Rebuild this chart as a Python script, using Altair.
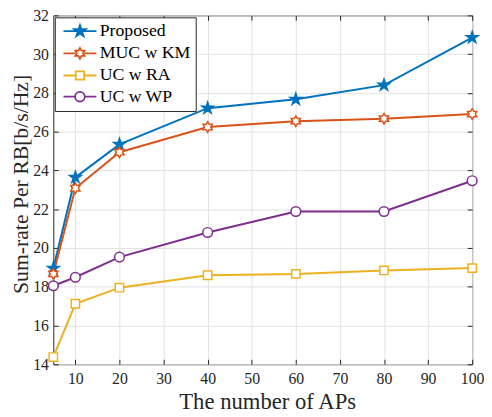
import math
import altair as alt
import pandas as pd

# ---------------- data ----------------
aps = [5, 10, 20, 40, 60, 80, 100]
proposed = [18.95, 23.64, 25.34, 27.21, 27.67, 28.4, 30.85]
muc_km = [18.66, 23.08, 24.94, 26.24, 26.54, 26.67, 26.91]
uc_ra = [14.37, 17.12, 17.95, 18.59, 18.66, 18.84, 18.96]
uc_wp = [18.05, 18.49, 19.53, 20.8, 21.88, 21.88, 23.47]
series_names = ["Proposed", "MUC w KM", "UC w RA", "UC w WP"]
x_ticks = [10, 20, 30, 40, 50, 60, 70, 80, 90, 100]
y_ticks = [14, 16, 18, 20, 22, 24, 26, 28, 30, 32]

colors = ["#0072BD", "#D95319", "#EDB120", "#7E2F8E"]
fills = ["#0072BD", "white", "white", "white"]

rows = []
for name, vals in zip(series_names, [proposed, muc_km, uc_ra, uc_wp]):
    for x, v in zip(aps, vals):
        rows.append({"aps": x, "rate": v, "series": name, "label": name})
df = pd.DataFrame(rows)

# ---------------- marker paths ----------------
def star_pts(n, R, r, rot=-90.0):
    pts = []
    for i in range(2 * n):
        rad = R if i % 2 == 0 else r
        a = math.radians(rot + i * 180.0 / n)
        pts.append((rad * math.cos(a), rad * math.sin(a)))
    return pts

def poly(pts, k):
    return "M" + "L".join(f"{x * k:.3f},{y * k:.3f}" for x, y in pts) + "Z"

def circle(r, k):
    r = r * k
    return f"M{r:.3f},0A{r:.3f},{r:.3f},0,1,1,{-r:.3f},0A{r:.3f},{r:.3f},0,1,1,{r:.3f},0Z"

def square(h, k):
    h = h * k
    return f"M{-h:.3f},{-h:.3f}H{h:.3f}V{h:.3f}H{-h:.3f}Z"

# marker geometry in pixels
PENT = star_pts(5, 6.2, 6.2 * 0.382)
HEX = star_pts(6, 5.4, 5.4 / math.sqrt(3))
CIRC_R = 4.9
SQ_H = 4.25

def marker_paths(k):
    return [poly(PENT, k), poly(HEX, k), square(SQ_H, k), circle(CIRC_R, k)]

# data markers: size 4 => 1 unit = 1 px
data_paths = marker_paths(1.0)

# legend markers: symbolSize 169 => 1 unit = 6.5 px
LU = 6.5
half_line = 16.7 / LU
gaps = [0.0, 5.4 * math.cos(math.radians(30)) / LU, SQ_H / LU, CIRC_R / LU]
legend_paths = []
for p, g in zip(marker_paths(1.0 / LU), gaps):
    if g > 0:
        line = f"M{-half_line:.3f},0H{-g:.3f}M{g:.3f},0H{half_line:.3f}"
    else:
        line = f"M{-half_line:.3f},0H{half_line:.3f}"
    legend_paths.append(line + p)

# ---------------- layout ----------------
W, H = 425, 354
FONT = "Liberation Serif"
TXT = "#262626"

x_scale = alt.Scale(domain=[5, 100], nice=False, zero=False)
y_scale = alt.Scale(domain=[14, 32], nice=False, zero=False)

x_main = alt.Axis(orient="bottom", values=x_ticks, grid=True, gridColor="#e2e2e2", gridWidth=1,
                  ticks=False, domain=False, labelFont=FONT, labelFontSize=16, labelColor=TXT,
                  labelPadding=7, labelFlush=False, title="The number of APs", titleFont=FONT,
                  titleFontSize=23, titleFontWeight="normal", titleColor=TXT, titleX=217,
                  titleY=45, titleBaseline="alphabetic", titleAlign="center")
y_main = alt.Axis(orient="left", values=y_ticks, grid=True, gridColor="#e2e2e2", gridWidth=1,
                  ticks=False, domain=False, labelFont=FONT, labelFontSize=16, labelColor=TXT,
                  labelPadding=5, title="Sum-rate Per RB[b/s/Hz]", titleFont=FONT,
                  titleFontSize=22, titleFontWeight="normal", titleColor=TXT, titleX=-26,
                  titleY=171, titleAngle=270, titleBaseline="alphabetic", titleAlign="center")

def tick_axis(orient, offset, vals):
    return alt.Axis(orient=orient, offset=offset, values=vals, labels=False, grid=False,
                    domain=False, ticks=True, tickSize=5, tickColor=TXT, tickWidth=1, title=None)

X = lambda ax: alt.X("aps:Q", scale=x_scale, axis=ax)
Y = lambda ax: alt.Y("rate:Q", scale=y_scale, axis=ax)

lines = alt.Chart(df).mark_line(strokeWidth=2).encode(
    x=X(x_main),
    y=Y(y_main),
    color=alt.Color("series:N", scale=alt.Scale(domain=series_names, range=colors), legend=None),
)

points = alt.Chart(df).mark_point(filled=True, opacity=1, strokeWidth=1.5, size=4).encode(
    x=X(tick_axis("top", -H, x_ticks)),
    y=Y(tick_axis("right", -W, y_ticks)),
    shape=alt.Shape("series:N", scale=alt.Scale(domain=series_names, range=data_paths), legend=None),
    stroke=alt.Stroke("series:N", scale=alt.Scale(domain=series_names, range=colors), legend=None),
    color=alt.Color("series:N", scale=alt.Scale(domain=series_names, range=fills), legend=None),
)

legend = alt.Legend(
    title=None, orient="none", legendX=1.5, legendY=2, fillColor="white", strokeColor=TXT,
    padding=5, cornerRadius=0, labelFont=FONT, labelFontSize=18, labelColor="black",
    labelOffset=11, symbolOffset=11.5, symbolSize=169, symbolStrokeWidth=1.8, rowPadding=3.5,
    labelLimit=0,
)

legend_layer = alt.Chart(df).transform_filter("false").mark_point(
    filled=True, opacity=1, strokeWidth=1.8
).encode(
    x=X(tick_axis("bottom", -H, x_ticks)),
    y=Y(tick_axis("left", -W, y_ticks)),
    color=alt.Color("label:N", scale=alt.Scale(domain=series_names, range=fills), legend=legend),
    stroke=alt.Stroke("label:N", scale=alt.Scale(domain=series_names, range=colors), legend=legend),
    shape=alt.Shape("label:N", scale=alt.Scale(domain=series_names, range=legend_paths), legend=legend),
)

chart = alt.layer(lines, points, legend_layer).resolve_scale(
    color="independent", shape="independent", stroke="independent"
).resolve_axis(x="independent", y="independent").properties(
    width=W, height=H, autosize="none",
    padding={"left": 46, "top": 4.5, "right": 12, "bottom": 47},
).configure(
    background="white", font=FONT
).configure_view(stroke=TXT, strokeWidth=1).configure_axis(
    labelFont=FONT, titleFont=FONT
).configure_legend(labelFont=FONT)

chart.save("out.html", embed_options={"renderer": "svg", "actions": False})
